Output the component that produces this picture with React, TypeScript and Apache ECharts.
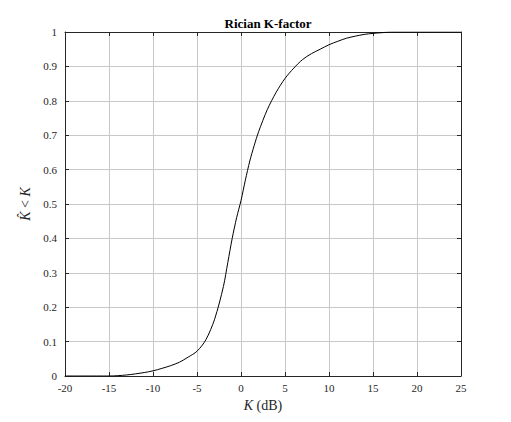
import React, { useEffect, useRef } from "react"
import * as echarts from "echarts"

const kDb = [-20, -15, -13, -11, -10, -9, -8, -7, -6, -5, -4, -3, -2, -1.5, -1, -0.5, 0, 0.5, 1, 1.5, 2, 3, 4, 5, 6, 7, 8, 9, 10, 11, 12, 13, 14, 15, 16, 17, 20, 25]
const cdf = [0, 0, 0.003, 0.01, 0.015, 0.022, 0.03, 0.04, 0.055, 0.072, 0.105, 0.165, 0.26, 0.33, 0.4, 0.46, 0.51, 0.57, 0.625, 0.67, 0.71, 0.775, 0.825, 0.865, 0.895, 0.92, 0.937, 0.95, 0.963, 0.973, 0.982, 0.988, 0.993, 0.996, 0.998, 1, 1, 1]

const font = "Liberation Serif"

export default function App() {
  const ref = useRef<HTMLDivElement>(null)
  useEffect(() => {
    const chart = echarts.init(ref.current!, undefined, { renderer: "svg" })
    const axisLine = { show: true, onZero: false, lineStyle: { color: "#262626", width: 1 } }
    const tick = { inside: true, length: 4, lineStyle: { color: "#262626" } }
    const split = { show: true, lineStyle: { color: "#c8c8c8" } }
    chart.setOption({
      animation: false,
      textStyle: { fontFamily: font },
      title: {
        text: "Rician K-factor",
        left: 263,
        textAlign: "center",
        top: 12,
        textStyle: { fontFamily: font, fontSize: 13, fontWeight: "bold", color: "#000" },
      },
      grid: { left: 65, right: 50, top: 32, bottom: 46 },
      xAxis: [
        {
          type: "value", min: -20, max: 25, interval: 5,
          name: "{i|K} (dB)", nameLocation: "middle", nameGap: 22,
          nameTextStyle: { fontFamily: font, fontSize: 14, color: "#262626", rich: { i: { fontStyle: "italic", fontFamily: font, fontSize: 14 } } },
          axisLine, axisTick: tick,
          axisLabel: { fontFamily: font, fontSize: 11, color: "#262626", margin: 6 },
          splitLine: split,
        },
        { type: "value", position: "top", min: -20, max: 25, interval: 5, axisLine, axisTick: tick, axisLabel: { show: false }, splitLine: { show: false } },
      ],
      yAxis: [
        {
          type: "value", min: 0, max: 1, interval: 0.1,
          name: "{i|K̂} < {i|K}", nameLocation: "middle", nameGap: 33,
          nameTextStyle: { fontFamily: font, fontSize: 14, color: "#262626", rich: { i: { fontStyle: "italic", fontFamily: font, fontSize: 14 } } },
          axisLine, axisTick: tick,
          axisLabel: { fontFamily: font, fontSize: 11, color: "#262626", margin: 8, formatter: (v: number) => String(Math.round(v * 10) / 10) },
          splitLine: split,
        },
        { type: "value", position: "right", min: 0, max: 1, interval: 0.1, axisLine, axisTick: tick, axisLabel: { show: false }, splitLine: { show: false } },
      ],
      series: [
        {
          type: "line", smooth: 0.3, showSymbol: false,
          data: kDb.map((k, i) => [k, cdf[i]]),
          lineStyle: { color: "#000", width: 1 },
        },
      ],
    })
    return () => chart.dispose()
  }, [])
  return <div ref={ref} style={{ width: 511, height: 422, position: "absolute", left: 0, top: 0, background: "#fff" }} />
}
